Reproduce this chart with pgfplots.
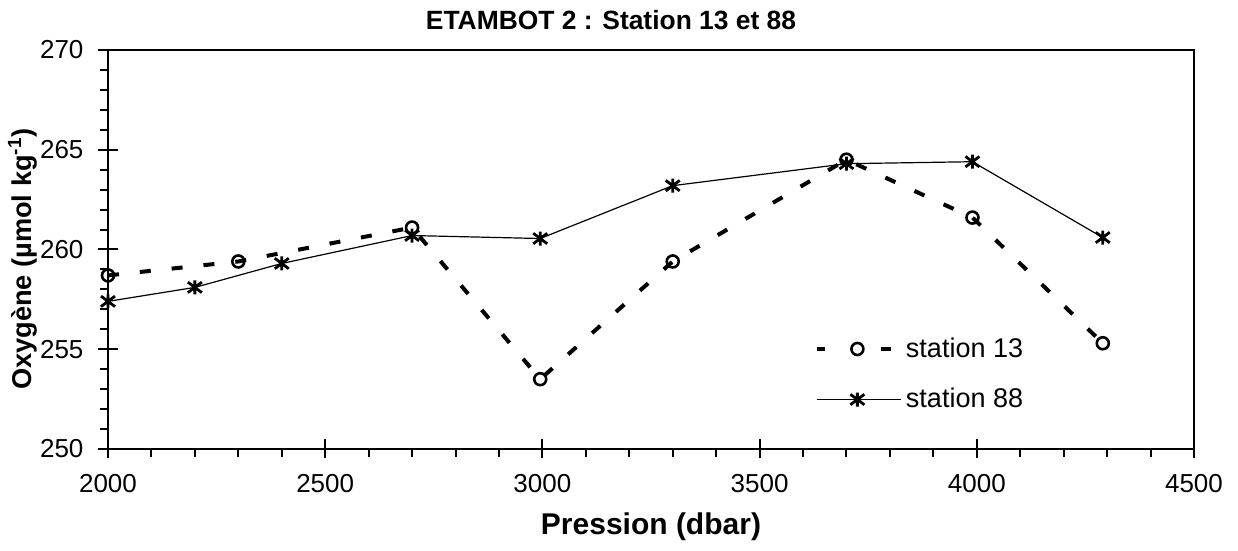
\documentclass[border=0pt]{standalone}
\usepackage{fontspec}
\setmainfont{Liberation Sans}
\usepackage{pgfplots}
\pgfplotsset{compat=1.18}
\pgfdeclareplotmark{xstar}{%
  \pgfpathmoveto{\pgfqpoint{-\pgfplotmarksize}{-0.75\pgfplotmarksize}}%
  \pgfpathlineto{\pgfqpoint{\pgfplotmarksize}{0.75\pgfplotmarksize}}%
  \pgfpathmoveto{\pgfqpoint{-\pgfplotmarksize}{0.75\pgfplotmarksize}}%
  \pgfpathlineto{\pgfqpoint{\pgfplotmarksize}{-0.75\pgfplotmarksize}}%
  \pgfpathmoveto{\pgfqpoint{0pt}{-\pgfplotmarksize}}%
  \pgfpathlineto{\pgfqpoint{0pt}{\pgfplotmarksize}}%
  \pgfusepathqstroke}
\begin{document}
\begin{tikzpicture}
\useasboundingbox (-54pt,-51pt) rectangle (565pt,224.5pt);
\begin{axis}[
  scale only axis,
  width=543pt, height=199.5pt,
  xmin=2000, xmax=4500, ymin=250, ymax=270,
  xtick={2000,2500,...,4500},
  ytick={250,255,...,270},
  minor x tick num=4, minor y tick num=4,
  xtick pos=left, ytick pos=left,
  tick align=center,
  major tick length=9.5pt, minor tick length=4pt,
  minor x tick style={yshift=-2pt},
  minor y tick style={xshift=-2pt},
  every tick/.style={black, line width=1pt},
  axis line style={line width=1.3pt},
  /pgf/number format/assume math mode=true,
  /pgf/number format/1000 sep={},
  tick label style={font=\fontsize{13}{15}\selectfont},
  xticklabel style={yshift=-4.5pt},
  yticklabel shift=4pt,
  title={\textbf{ETAMBOT 2 : Station 13 et 88}},
  title style={at={(0.4632,1.045)}, anchor=center, font=\fontsize{13.2}{15}\selectfont},
  xlabel={\textbf{Pression (dbar)}},
  xlabel style={at={(0.5,-0.1955)}, anchor=center, font=\fontsize{15}{18}\selectfont},
  ylabel={\textbf{Oxygène (µmol kg\textsuperscript{-1})}},
  ylabel style={at={(-0.0785,0.476)}, anchor=center, font=\fontsize{13.6}{16}\selectfont},
  legend style={at={(0.651,0.29)}, anchor=north west, draw=none, fill=none,
    font=\fontsize{13.5}{16}\selectfont, row sep=10pt, inner sep=0pt},
  legend cell align=left,
]
\addplot[black, line width=2pt, dash pattern=on 5.5pt off 10.5pt,
  mark=o, mark size=3pt, mark options={solid, fill=white, line width=1.3pt},
  legend image code/.code={
    \draw[solid, black, line width=2pt] (0pt,0pt) -- (4pt,0pt);
    \draw[solid, black, line width=2pt] (32pt,0pt) -- (37pt,0pt);
    \draw[solid, black, line width=1.3pt, fill=white] (20pt,0pt) circle (3pt);
  }]
coordinates {
(2000,258.7) (2300,259.4) (2700,261.1) (2995,253.5) (3300,259.4)
(3700,264.5) (3990,261.6) (4290,255.3)
};
\addlegendentry{station 13}
\addplot[black, line width=0.6pt,
  mark=xstar, mark size=3.5pt, mark options={line width=1.4pt},
  legend image code/.code={
    \draw[solid, black, line width=0.6pt] (0pt,0pt) -- (42pt,0pt);
    \draw[solid, black, line width=1.4pt] (16.5pt,-2.6pt) -- (23.5pt,2.6pt) (16.5pt,2.6pt) -- (23.5pt,-2.6pt) (20pt,-3.5pt) -- (20pt,3.5pt);
  }]
coordinates {
(2000,257.4) (2200,258.1) (2400,259.3) (2700,260.7) (2995,260.55)
(3300,263.2) (3700,264.3) (3990,264.4) (4290,260.6)
};
\addlegendentry{station 88}
\end{axis}
\end{tikzpicture}
\end{document}
